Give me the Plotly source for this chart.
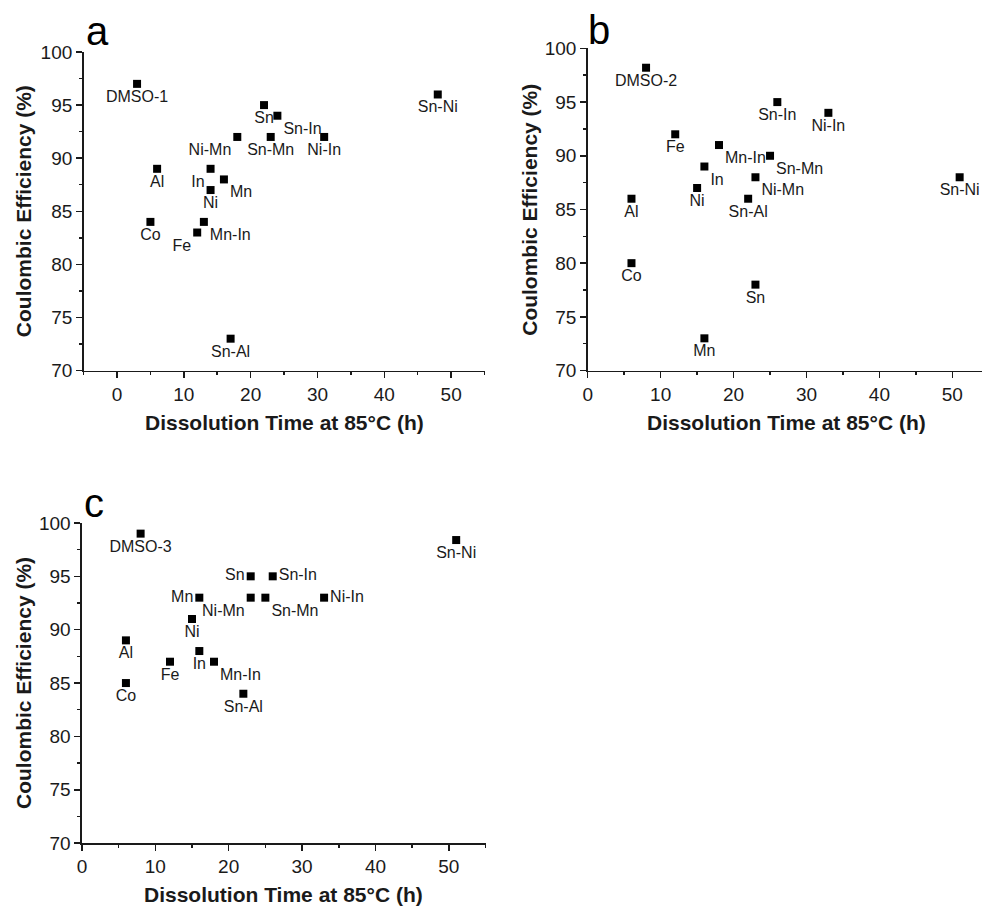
import plotly.graph_objects as go

# page is 982x916; the default 8px body margin is removed by a post script
W, H = 982, 916
OFF = 0

# ---------------- data ----------------
# panel a
a_labels = ["DMSO-1", "Al", "Co", "Fe", "Mn-In", "In", "Ni", "Mn", "Ni-Mn",
            "Sn-Al", "Sn", "Sn-Mn", "Sn-In", "Ni-In", "Sn-Ni"]
a_time = [3, 6, 5, 12, 13, 14, 14, 16, 18, 17, 22, 23, 24, 31, 48]
a_ce = [97, 89, 84, 83, 84, 89, 87, 88, 92, 73, 95, 92, 94, 92, 96]

# panel b
b_labels = ["DMSO-2", "Al", "Co", "Fe", "Ni", "In", "Mn", "Mn-In", "Sn-Al",
            "Ni-Mn", "Sn", "Sn-Mn", "Sn-In", "Ni-In", "Sn-Ni"]
b_time = [8, 6, 6, 12, 15, 16, 16, 18, 22, 23, 23, 25, 26, 33, 51]
b_ce = [98.2, 86, 80, 92, 87, 89, 73, 91, 86, 88, 78, 90, 95, 94, 88]

# panel c
c_labels = ["DMSO-3", "Al", "Co", "Fe", "Ni", "Mn", "In", "Mn-In", "Sn-Al",
            "Sn", "Ni-Mn", "Sn-Mn", "Sn-In", "Ni-In", "Sn-Ni"]
c_time = [8, 6, 6, 12, 15, 16, 16, 18, 22, 23, 23, 25, 26, 33, 51]
c_ce = [99, 89, 85, 87, 91, 93, 88, 87, 84, 95, 93, 93, 95, 93, 98.4]

x_title = "Dissolution Time at 85°C (h)"
y_title = "Coulombic Efficiency (%)"

# ---------------- label placement (style) ----------------
BC, BL, BR, ML, MR = "bottom center", "bottom left", "bottom right", "middle left", "middle right"
a_pos = [BC, BC, BC, BL, BR, BL, BC, BR, BL, BC, BC, BC, BR, BC, BC]
b_pos = [BC, BC, BC, BC, BC, BR, BC, BR, BC, BR, BC, BR, BC, BC, BC]
c_pos = [BC, BC, BC, BC, BC, ML, BC, BR, BC, ML, BL, BR, MR, MR, BC]

FONT = "Liberation Sans, Arial, sans-serif"
INK = "#1a1a1a"


def px_x(p):
    """page pixel -> paper fraction"""
    return (p - OFF) / W


def px_y(p):
    return 1 - (p - OFF) / H


fig = go.Figure()

panels = [
    (a_time, a_ce, a_labels, a_pos, "x", "y"),
    (b_time, b_ce, b_labels, b_pos, "x2", "y2"),
    (c_time, c_ce, c_labels, c_pos, "x3", "y3"),
]
for t, ce, lab, pos, xa, ya in panels:
    fig.add_trace(go.Scatter(
        x=t, y=ce, text=lab, mode="markers+text", textposition=pos,
        marker=dict(symbol="square", size=8, color="black"),
        textfont=dict(family=FONT, size=16, color=INK),
        xaxis=xa, yaxis=ya, showlegend=False, cliponaxis=False,
        hoverinfo="skip",
    ))


def xaxis(domain, rng, anchor):
    return dict(domain=domain, range=rng, anchor=anchor, tick0=0, dtick=10,
                ticks="outside", ticklen=6, tickwidth=1.5, tickcolor=INK,
                minor=dict(dtick=5, tick0=0, ticks="outside", ticklen=3,
                           tickwidth=1.5, tickcolor=INK, showgrid=False),
                showline=True, linecolor=INK, linewidth=1.5,
                showgrid=False, zeroline=False,
                tickfont=dict(family=FONT, size=19, color=INK))


def yaxis(domain, anchor):
    return dict(domain=domain, range=[70, 100], anchor=anchor, tick0=70, dtick=5,
                ticks="outside", ticklen=6, tickwidth=1.5, tickcolor=INK,
                minor=dict(dtick=2.5, tick0=70, ticks="outside", ticklen=3,
                           tickwidth=1.5, tickcolor=INK, showgrid=False),
                showline=True, linecolor=INK, linewidth=1.5,
                showgrid=False, zeroline=False,
                tickfont=dict(family=FONT, size=19, color=INK))


# page-pixel geometry of the three plot areas
A_X = (79, 482); A_Y = (43, 369)
B_X = (585.7, 982); B_Y = (39.3, 369)
C_X = (77.3, 483); C_Y = (525, 852.7)
b_xmax = (B_X[1] - B_X[0]) / 7.33

fig.update_layout(
    width=W, height=H, margin=dict(l=0, r=0, t=0, b=0),
    paper_bgcolor="white", plot_bgcolor="white",
    hovermode=False,
    xaxis=xaxis([px_x(A_X[0]), px_x(A_X[1])], [-5, 55], "y"),
    yaxis=yaxis([px_y(A_Y[1]), px_y(A_Y[0])], "x"),
    xaxis2=xaxis([px_x(B_X[0]), min(1.0, px_x(B_X[1]))], [0, b_xmax], "y2"),
    yaxis2=yaxis([px_y(B_Y[1]), px_y(B_Y[0])], "x2"),
    xaxis3=xaxis([px_x(C_X[0]), px_x(C_X[1])], [0, 55], "y3"),
    yaxis3=yaxis([px_y(C_Y[1]), px_y(C_Y[0])], "x3"),
)

ann = []
# axis titles
for cx, cy in [((A_X[0] + A_X[1]) / 2, 422), (786, 422),
               ((C_X[0] + C_X[1]) / 2, 905)]:
    ann.append(dict(text=x_title, x=px_x(cx), y=px_y(cy), xref="paper", yref="paper",
                    xanchor="center", yanchor="middle", showarrow=False,
                    font=dict(family=FONT, size=21, color=INK, weight="bold")))
for cx, cy in [(18, (A_Y[0] + A_Y[1]) / 2), (527, (B_Y[0] + B_Y[1]) / 2),
               (18, (C_Y[0] + C_Y[1]) / 2)]:
    ann.append(dict(text=y_title, x=px_x(cx), y=px_y(cy), xref="paper", yref="paper",
                    xanchor="center", yanchor="middle", textangle=-90, showarrow=False,
                    font=dict(family=FONT, size=21, color=INK, weight="bold")))
# panel letters
for letter, lx, ly in [("a", 79, 22), ("b", 584, 20), ("c", 77, 505)]:
    ann.append(dict(text=letter, x=px_x(lx), y=px_y(ly), xref="paper", yref="paper",
                    xanchor="left", yanchor="middle", showarrow=False,
                    font=dict(family=FONT, size=40, color="black")))

fig.update_layout(annotations=ann)
fig.write_html(
    "out.html",
    config={"displayModeBar": False, "staticPlot": True},
    post_script="document.body.style.margin='0';document.body.style.overflow='hidden';",
)
